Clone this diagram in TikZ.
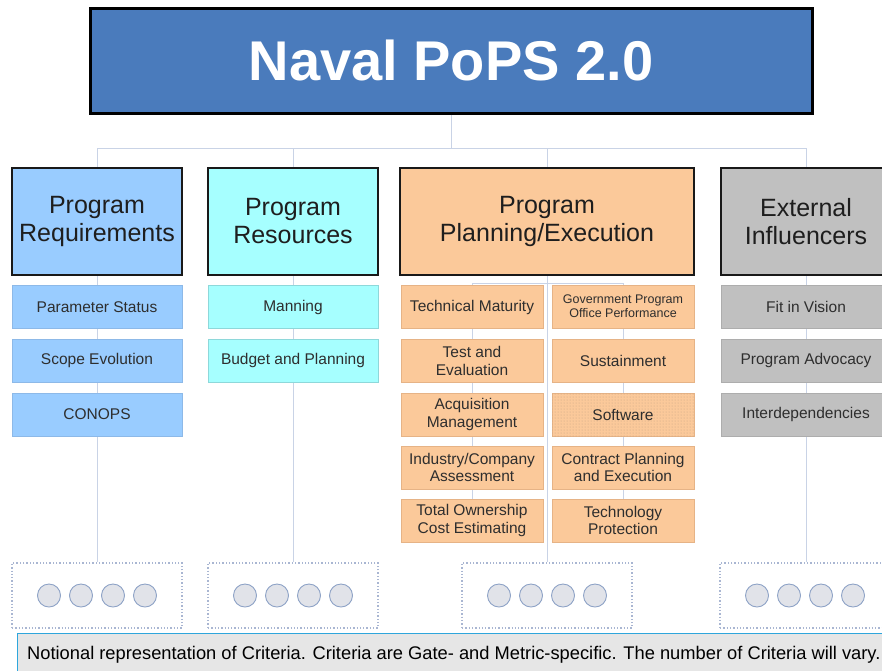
\documentclass[tikz,border=0pt]{standalone}
\usepackage{fontspec}
\setmainfont{Liberation Sans}
\usetikzlibrary{backgrounds,patterns}
\definecolor{titleblue}{HTML}{4A7BBC}
\definecolor{reqblue}{HTML}{99CCFF}
\definecolor{reqedge}{HTML}{8DB9E8}
\definecolor{rescyan}{HTML}{A6FFFF}
\definecolor{resedge}{HTML}{8ED8DA}
\definecolor{peach}{HTML}{FBC99A}
\definecolor{peachedge}{HTML}{E6B386}
\definecolor{extgray}{HTML}{C0C0C0}
\definecolor{extedge}{HTML}{ADADAD}
\definecolor{conncol}{HTML}{C9D3E6}
\definecolor{dotcol}{HTML}{A9B6D2}
\definecolor{circfill}{HTML}{E1E3E9}
\definecolor{circedge}{HTML}{8DA2C6}
\definecolor{footfill}{HTML}{E6E6E6}
\definecolor{footedge}{HTML}{2EA6DC}
\definecolor{txt}{HTML}{1E1E1E}
\definecolor{ctxt}{HTML}{2E2E2E}
\begin{document}
\begin{tikzpicture}[x=1pt,y=-1pt,
  titlebox/.style={draw=black, line width=3pt, fill=titleblue, minimum width=722pt, minimum height=105pt, inner sep=0pt, text=white, font=\bfseries\fontsize{56}{60}\selectfont},
  hdr/.style={draw=black!90, line width=2.5pt, minimum width=170pt, minimum height=107pt, align=center, text=txt, inner sep=0pt, font=\fontsize{25}{28}\selectfont},
  child/.style={minimum width=170pt, minimum height=43pt, align=center, text=ctxt, inner sep=0pt, line width=0.8pt, font=\fontsize{15.5}{17.5}\selectfont},
  pchild/.style={child, minimum width=142pt, fill=peach, draw=peachedge},
  rchild/.style={child, fill=reqblue, draw=reqedge},
  cchild/.style={child, fill=rescyan, draw=resedge},
  gchild/.style={child, fill=extgray, draw=extedge},
  critbox/.style={draw=dotcol, dotted, line width=1.3pt, minimum width=170pt, minimum height=65pt, inner sep=0pt},
  crit/.style={circle, draw=circedge, fill=circfill, line width=0.9pt, minimum size=23pt, inner sep=0pt},
  conn/.style={draw=conncol, line width=1pt}
]
\useasboundingbox (0,0) rectangle (882,670);
\clip (0,0) rectangle (882,670);

% title
\node[titlebox] (title) at (451,60.5) {Naval PoPS 2.0};

% headers
\node[hdr, fill=reqblue] (req) at (97,221.5) {Program\\Requirements};
\node[hdr, fill=rescyan] (res) at (293,221.5) {Program\\Resources};
\node[hdr, fill=peach, minimum width=294pt] (plan) at (547,221.5) {Program\\Planning/Execution};
\node[hdr, fill=extgray] (ext) at (806,221.5) {External\\Influencers};

% requirement children
\node[rchild] (r1) at (97,307) {Parameter Status};
\node[rchild] (r2) at (97,360.5) {Scope Evolution};
\node[rchild] (r3) at (97,414.5) {CONOPS};

% resources children
\node[cchild] (s1) at (293,307) {Manning};
\node[cchild] (s2) at (293,360.5) {Budget and Planning};

% planning children
\node[pchild] (pl1) at (472,307) {Technical Maturity};
\node[pchild] (pl2) at (472,361) {Test and\\Evaluation};
\node[pchild] (pl3) at (472,414.5) {Acquisition\\Management};
\node[pchild] (pl4) at (472,467.5) {Industry/Company\\Assessment};
\node[pchild] (pl5) at (472,520.5) {Total Ownership\\Cost Estimating};
\node[pchild, font=\fontsize{12.5}{14}\selectfont] (pr1) at (623,306.5) {Government Program\\Office Performance};
\node[pchild] (pr2) at (623,361) {Sustainment};
\node[pchild, postaction={pattern=dots, pattern color=peachedge!70!gray}] (pr3) at (623,414.5) {Software};
\node[pchild] (pr4) at (623,467.5) {Contract Planning\\and Execution};
\node[pchild] (pr5) at (623,520.5) {Technology\\Protection};

% external children
\node[gchild] (e1) at (806,307) {Fit in Vision};
\node[gchild] (e2) at (806,360.5) {Program Advocacy};
\node[gchild] (e3) at (806,414.5) {Interdependencies};

% criteria boxes
\node[critbox] (reqd) at (97,595.5) {};
\node[critbox] (resd) at (293,595.5) {};
\node[critbox] (pland) at (547,595.5) {};
\node[critbox] (extd) at (805,595.5) {};
\foreach \b in {reqd,resd,pland,extd}{
  \foreach \d [count=\i] in {-48,-16,16,48}{
    \node[crit] (\b c\i) at ([xshift=\d pt]\b.center) {};
  }
}

% footer
\node[draw=footedge, fill=footfill, line width=1.2pt, minimum width=890pt, minimum height=42pt, anchor=north west, inner sep=0pt] (foot) at (17,633) {};
\node[anchor=west, inner sep=0pt, text=black, font=\fontsize{18.3}{21}\selectfont] (foottext) at ([xshift=10pt]foot.west) {Notional representation of Criteria. Criteria are Gate- and Metric-specific. The number of Criteria will vary.};

% connectors
\begin{scope}[on background layer]
\fill[white] (0,0) rectangle (882,670);
\coordinate (bus) at (451,148);
\draw[conn] (title.south) -- (bus);
\draw[conn] (req.north) |- (bus);
\draw[conn] (res.north) |- (bus);
\draw[conn] (plan.north) |- (bus);
\draw[conn] (ext.north) |- (bus);
\draw[conn] (req.south) -- (reqd.north);
\draw[conn] (res.south) -- (resd.north);
\draw[conn] (plan.south) -- (pland.north);
\draw[conn] (ext.south) -- ([xshift=1pt]extd.north);
\coordinate (pbus) at (547,283);
\draw[conn] (pl5.center) |- (pbus);
\draw[conn] (pr5.center) |- (pbus);
\end{scope}
\end{tikzpicture}
\end{document}
